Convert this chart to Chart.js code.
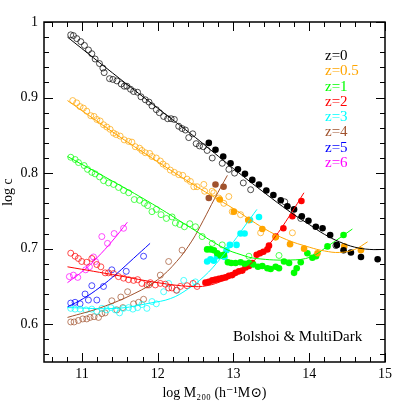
<!DOCTYPE html>
<html><head><meta charset="utf-8">
<script src="https://cdn.jsdelivr.net/npm/chart.js@4/dist/chart.umd.min.js"></script>
<style>html,body{margin:0;padding:0;background:#fff}#wrap{width:407px;height:407px}</style>
</head><body><div id="wrap"><canvas id="c" width="407" height="407"></canvas></div>
<script>
// ---- data (x = log M200, y = log c) ----
const xTicks = [11, 12, 13, 14, 15];
const yTicks = [0.6, 0.7, 0.8, 0.9, 1];
const legendLabels = ['z=0','z=0.5','z=1','z=2','z=3','z=4','z=5','z=6'];
const seriesColors = ['#000000','#ffa500','#00ff00','#ff0000','#00ffff','#a0522d','#0000ff','#ff00ff'];
const note = 'Bolshoi & MultiDark';

const z0Open = [[10.853,0.983],[10.888,0.982],[10.933,0.978],[10.986,0.974],[11.034,0.969],[11.087,0.963],[11.131,0.958],[11.175,0.951],[11.232,0.945],[11.277,0.939],[11.294,0.933],[11.365,0.925],[11.409,0.924],[11.462,0.922],[11.519,0.918],[11.559,0.915],[11.594,0.915],[11.642,0.911],[11.682,0.908],[11.735,0.907],[11.780,0.901],[11.837,0.897],[11.886,0.894],[11.925,0.889],[11.982,0.884],[12.022,0.880],[12.079,0.875],[12.132,0.872],[12.177,0.872],[12.220,0.871],[12.278,0.862],[12.322,0.859],[12.366,0.857],[12.410,0.847],[12.463,0.852],[12.508,0.839],[12.552,0.836],[12.600,0.835],[12.653,0.830],[12.720,0.820],[12.852,0.813],[12.940,0.805],[13.015,0.800],[13.130,0.787],[13.227,0.778],[13.677,0.762],[13.888,0.740],[14.352,0.704]];
const z0Fill = [[12.675,0.840],[12.763,0.831],[12.865,0.822],[12.962,0.813],[13.059,0.805],[13.152,0.799],[13.249,0.791],[13.337,0.785],[13.434,0.777],[13.527,0.771],[13.624,0.764],[13.712,0.756],[13.800,0.752],[13.902,0.743],[13.990,0.737],[14.087,0.729],[14.176,0.727],[14.276,0.718],[14.365,0.705],[14.453,0.698],[14.550,0.695],[14.683,0.689],[14.903,0.686]];
const z0Fit = [[10.81,0.980],[11.5,0.925],[12.0,0.886],[12.5,0.847],[13.0,0.806],[13.5,0.767],[13.8,0.745],[14.0,0.732],[14.2,0.719],[14.4,0.709],[14.6,0.702],[14.8,0.699],[15.0,0.699]];

const z05Open = [[10.879,0.896],[10.932,0.893],[10.976,0.888],[11.020,0.886],[11.064,0.882],[11.117,0.876],[11.161,0.875],[11.197,0.871],[11.241,0.869],[11.285,0.864],[11.329,0.861],[11.373,0.858],[11.417,0.853],[11.453,0.851],[11.505,0.849],[11.558,0.844],[11.616,0.842],[11.660,0.841],[11.704,0.835],[11.761,0.833],[11.792,0.830],[11.836,0.827],[11.894,0.826],[11.925,0.822],[11.982,0.820],[12.035,0.816],[12.070,0.812],[12.115,0.809],[12.167,0.804],[12.220,0.801],[12.278,0.798],[12.331,0.797],[12.388,0.792],[12.432,0.789],[12.477,0.782],[12.520,0.782],[12.609,0.785],[12.620,0.776],[12.719,0.776],[12.741,0.774],[12.807,0.767],[12.873,0.760],[12.939,0.769],[12.984,0.749],[13.094,0.745],[13.204,0.738],[13.359,0.721],[13.778,0.721]];
const z05Fill = [[12.820,0.765],[13.006,0.749],[13.195,0.738],[13.381,0.726],[13.557,0.715],[13.747,0.706],[13.932,0.700],[14.109,0.694],[14.462,0.703],[14.682,0.698]];
const z05Fit = [[10.81,0.896],[11.5,0.848],[12.0,0.815],[12.5,0.783],[13.0,0.753],[13.4,0.727],[13.7,0.712],[14.0,0.702],[14.2,0.697],[14.4,0.695],[14.6,0.699],[14.77,0.709]];

const z1Open = [[10.853,0.821],[10.911,0.818],[10.955,0.814],[11.030,0.810],[11.074,0.805],[11.131,0.801],[11.175,0.799],[11.233,0.795],[11.286,0.790],[11.352,0.787],[11.418,0.785],[11.484,0.781],[11.550,0.777],[11.617,0.774],[11.691,0.765],[11.762,0.764],[11.824,0.760],[11.868,0.757],[11.925,0.749],[11.983,0.752],[12.044,0.745],[12.115,0.740],[12.190,0.742],[12.234,0.734],[12.292,0.732],[12.353,0.729],[12.424,0.733],[12.499,0.729],[12.587,0.716],[12.720,0.707],[12.852,0.705],[13.204,0.690],[13.601,0.691]];
const z1Fill = [[12.653,0.699],[12.697,0.699],[12.742,0.698],[12.786,0.694],[12.830,0.691],[12.874,0.692],[12.927,0.682],[12.971,0.681],[13.028,0.681],[13.095,0.682],[13.148,0.680],[13.205,0.681],[13.262,0.679],[13.324,0.676],[13.381,0.677],[13.448,0.674],[13.491,0.673],[13.557,0.676],[13.601,0.674],[13.667,0.683],[13.734,0.681],[13.800,0.668],[13.835,0.674],[13.888,0.682],[13.976,0.694],[14.042,0.688],[14.090,0.690],[14.241,0.703],[14.453,0.718]];
const z1Fit = [[10.81,0.822],[11.5,0.784],[12.0,0.755],[12.43,0.728],[12.87,0.701],[13.1,0.692],[13.3,0.687],[13.75,0.685],[14.02,0.689],[14.24,0.703],[14.57,0.726]];

const z2Open = [[10.853,0.694],[10.910,0.690],[10.954,0.687],[10.998,0.683],[11.064,0.682],[11.131,0.687],[11.197,0.679],[11.250,0.676],[11.307,0.668],[11.351,0.668],[11.417,0.667],[11.483,0.663],[11.550,0.661],[11.616,0.659],[11.682,0.658],[11.735,0.659],[11.792,0.654],[11.859,0.652],[11.903,0.655],[11.969,0.652],[12.035,0.654],[12.101,0.653],[12.145,0.648],[12.189,0.648],[12.247,0.645],[12.300,0.650],[12.388,0.651],[12.467,0.654],[12.520,0.650]];
const z2Fill = [[12.631,0.655],[12.675,0.656],[12.720,0.658],[12.764,0.659],[12.808,0.660],[12.852,0.661],[12.896,0.662],[12.940,0.664],[12.984,0.665],[13.028,0.668],[13.073,0.670],[13.117,0.671],[13.160,0.675],[13.205,0.677],[13.249,0.681],[13.306,0.692],[13.350,0.694],[13.395,0.696],[13.448,0.699],[13.469,0.704],[13.558,0.716],[13.659,0.727],[13.778,0.743],[13.897,0.763]];
const z2Fit = [[10.81,0.676],[11.5,0.664],[12.0,0.655],[12.43,0.650],[12.65,0.651],[12.87,0.658],[13.09,0.669],[13.31,0.688],[13.53,0.713],[13.75,0.745],[13.93,0.774]];

const z3Open = [[10.853,0.621],[10.910,0.620],[10.976,0.620],[11.055,0.619],[11.131,0.620],[11.197,0.617],[11.263,0.621],[11.329,0.619],[11.382,0.622],[11.439,0.619],[11.497,0.615],[11.550,0.621],[11.616,0.622],[11.673,0.620],[11.735,0.622],[11.792,0.626],[11.858,0.621],[11.925,0.630],[11.982,0.627],[12.079,0.643],[12.145,0.654],[12.256,0.645],[12.344,0.658],[12.498,0.656]];
const z3Fill = [[12.653,0.683],[12.697,0.686],[12.741,0.684],[12.785,0.690],[12.838,0.691],[12.882,0.689],[12.909,0.698],[12.953,0.705],[13.041,0.705],[13.094,0.720],[13.147,0.720],[13.218,0.738],[13.337,0.742]];
const z3Fit = [[10.81,0.622],[11.46,0.621],[11.9,0.628],[12.17,0.634],[12.39,0.646],[12.61,0.663],[12.83,0.687],[13.0,0.709],[13.15,0.730],[13.31,0.752]];

const z4Open = [[10.853,0.603],[10.897,0.603],[10.954,0.605],[11.011,0.607],[11.064,0.607],[11.108,0.609],[11.161,0.610],[11.219,0.609],[11.263,0.614],[11.307,0.615],[11.395,0.631],[11.461,0.619],[11.514,0.636],[11.541,0.622],[11.603,0.643],[11.682,0.627],[11.748,0.629],[11.814,0.633],[11.885,0.652],[12.035,0.665],[12.145,0.683],[12.322,0.698]];
const z4Fill = [[12.675,0.767],[12.763,0.785],[12.870,0.782]];
const z4Fit = [[10.81,0.609],[11.25,0.622],[11.7,0.641],[12.0,0.659],[12.25,0.683],[12.45,0.710],[12.6,0.737],[12.75,0.766],[12.92,0.797]];

const z5Open = [[10.853,0.628],[10.910,0.629],[10.976,0.627],[11.042,0.640],[11.086,0.632],[11.131,0.651],[11.197,0.632],[11.285,0.650],[11.395,0.672],[11.585,0.670],[11.814,0.690]];
const z5Fit = [[10.81,0.623],[11.02,0.634],[11.24,0.649],[11.46,0.667],[11.68,0.687],[11.90,0.707]];

const z6Open = [[10.835,0.663],[10.888,0.665],[10.945,0.662],[11.050,0.672],[11.100,0.676],[11.153,0.689],[11.180,0.683],[11.263,0.716],[11.338,0.707],[11.426,0.720],[11.550,0.727]];
const z6Fit = [[10.81,0.655],[11.02,0.671],[11.2,0.688],[11.4,0.710],[11.60,0.735]];

const openSets = [z0Open, z05Open, z1Open, z2Open, z3Open, z4Open, z5Open, z6Open];
const fillSets = [z0Fill, z05Fill, z1Fill, z2Fill, z3Fill, z4Fill, null, null];
const fitSets  = [z0Fit, z05Fit, z1Fit, z2Fit, z3Fit, z4Fit, z5Fit, z6Fit];

// ---- build datasets ----
const toPts = a => a.map(p => ({x: p[0], y: p[1]}));
const datasets = [];
fitSets.forEach((s, i) => datasets.push({
  data: toPts(s), showLine: true, pointRadius: 0, borderColor: seriesColors[i],
  borderWidth: 1, tension: 0.4, fill: false, order: 1
}));
fillSets.forEach((s, i) => { if (s) datasets.push({
  data: toPts(s), pointRadius: 3.3, pointStyle: 'circle', backgroundColor: seriesColors[i],
  borderColor: seriesColors[i], borderWidth: 0, showLine: false, order: 2
}); });
openSets.forEach((s, i) => datasets.push({
  data: toPts(s), pointRadius: 3, pointStyle: 'circle', backgroundColor: 'rgba(0,0,0,0)',
  borderColor: seriesColors[i], borderWidth: 0.7, showLine: false, order: 3
}));

const FONT = "'Liberation Serif', 'DejaVu Serif', serif";

const framePlugin = {
  id: 'frameTicks',
  afterDraw(chart) {
    const {ctx, chartArea: a, scales: {x, y}} = chart;
    ctx.save();
    ctx.strokeStyle = '#000';
    ctx.lineWidth = 1;
    for (let v = 10.6; v < 15.001; v += 0.2) {
      const vv = Math.round(v * 10) / 10;
      const major = Math.abs(vv - Math.round(vv)) < 1e-6;
      const L = major ? 9 : 5;
      const px = Math.round(x.getPixelForValue(vv)) + 0.5;
      ctx.beginPath();
      ctx.moveTo(px, a.bottom); ctx.lineTo(px, a.bottom - L);
      ctx.moveTo(px, a.top); ctx.lineTo(px, a.top + L);
      ctx.stroke();
    }
    for (let v = 0.56; v < 1.0001; v += 0.02) {
      const vv = Math.round(v * 100) / 100;
      const major = Math.abs(vv * 10 - Math.round(vv * 10)) < 1e-6;
      const L = major ? 9 : 5;
      const py = Math.round(y.getPixelForValue(vv)) + 0.5;
      ctx.beginPath();
      ctx.moveTo(a.left, py); ctx.lineTo(a.left + L, py);
      ctx.moveTo(a.right, py); ctx.lineTo(a.right - L, py);
      ctx.stroke();
    }
    ctx.lineWidth = 1.5;
    ctx.strokeRect(a.left, a.top, a.right - a.left, a.bottom - a.top);
    ctx.font = '15px ' + FONT;
    ctx.textBaseline = 'middle';
    ctx.textAlign = 'left';
    legendLabels.forEach((t, i) => {
      ctx.fillStyle = seriesColors[i];
      ctx.fillText(t, 325, 56 + i * 15.3);
    });
    ctx.fillStyle = '#000';
    ctx.font = '15px ' + FONT;
    ctx.fillText(note, 233, 337);
    ctx.restore();
  }
};

new Chart(document.getElementById('c'), {
  type: 'scatter',
  data: { datasets },
  options: {
    responsive: false, animation: false, devicePixelRatio: 1,
    layout: { padding: { top: 22, right: 22, left: 0, bottom: 0 } },
    plugins: { legend: { display: false }, tooltip: { enabled: false } },
    scales: {
      x: {
        type: 'linear', min: 10.5, max: 15,
        grid: { display: false, drawTicks: false }, border: { display: false },
        afterBuildTicks: s => { s.ticks = xTicks.map(v => ({ value: v })); },
        afterFit: s => { s.height = 45; },
        ticks: { color: '#000', font: { family: FONT, size: 14 }, padding: 4, maxRotation: 0, callback: v => String(v) },
        title: { display: true, text: 'log M\u2082\u2080\u2080 (h\u207B\u00B9M\u2299)', color: '#000',
                 font: { family: FONT, size: 14 }, padding: { top: 0, bottom: 5 } }
      },
      y: {
        type: 'linear', min: 0.55, max: 1.0,
        grid: { display: false, drawTicks: false }, border: { display: false },
        afterBuildTicks: s => { s.ticks = yTicks.map(v => ({ value: v })); },
        afterFit: s => { s.width = 44; },
        ticks: { color: '#000', font: { family: FONT, size: 14 }, padding: 6, callback: v => String(v) },
        title: { display: true, text: 'log c', color: '#000',
                 font: { family: FONT, size: 14 }, padding: { top: 0, bottom: 0 } }
      }
    }
  },
  plugins: [framePlugin]
});
</script></body></html>
